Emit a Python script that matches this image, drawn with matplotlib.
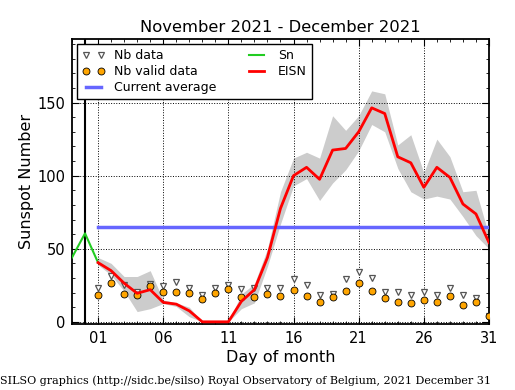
import matplotlib
matplotlib.use("Agg")
import matplotlib.pyplot as plt
from matplotlib.ticker import MultipleLocator, FuncFormatter

plt.rcParams.update({
    "font.family": "DejaVu Sans",
    "xtick.direction": "in",
    "ytick.direction": "in",
    "xtick.top": True,
    "ytick.right": True,
})

# ---- data ----
days = list(range(1, 32))
eisn = [40.5, 35, 26.4, 19.5, 22, 13.3, 12.1, 7.5, 0, 0, 0, 14, 22, 44, 77.6,
        100, 105.7, 97.5, 117.5, 118.6, 130, 146.4, 142.5, 112.9, 108.8, 92,
        105.7, 98.8, 80.6, 73.8, 54.2]
band_lo = [39, 32, 21, 7, 9, 12.5, 10.5, 3.5, 0, 0, 0, 9, 13, 38, 67,
           93, 98, 83, 95, 104, 117, 135, 130, 105, 89, 84, 86, 84, 72, 59, 50]
band_hi = [44, 40, 31, 31, 35, 15, 13, 10, 0, 0, 0, 19, 26, 50, 89,
           112, 116, 112, 141, 131, 141, 158, 156, 121, 128, 102, 125, 113, 89, 90, 59]
nb_data = [23.2, 31.6, 25.3, 20.7, 25.7, 24.8, 27.3, 23, 18.4, 22.9, 25.3, 22.3, 23, 23.2, 23.2,
           29.3, 25.2, 18.3, 19.1, 29.2, 33.8, 30.3, 20.5, 20.5, 18.4, 20.5, 18.4, 23.2, 18.4, 16.6, 4.3]
nb_valid = [18.2, 26.8, 18.7, 18.2, 24.8, 20.7, 20.7, 20, 15.7, 20, 22.6, 17.3, 17.3, 18.8, 18,
            22.1, 18, 13.9, 17.3, 20.8, 26.8, 21, 16, 13.9, 13.2, 15.2, 13.9, 18, 11.8, 13.9, 4.3]
sn_days = [-1, 0, 1]
sn = [44, 60.5, 40.5]
current_avg = 64.7
avg_days = [1, 31]

fig = plt.figure(figsize=(5.15, 3.9), dpi=100)
ax = fig.add_axes([0.1398, 0.1692, 0.8097, 0.7308])

ax.fill_between(days, band_lo, band_hi, color="#CCCCCC", lw=0, zorder=1)
ax.axvline(0, color="black", lw=1.5, zorder=2)
ax.plot(days, nb_data, "v", ms=4.2, mfc="white", mec="#555555", mew=0.9,
        ls="none", label="Nb data", zorder=3)
ax.plot(days, nb_valid, "o", ms=5, mfc="#FFA500", mec="black", mew=0.6,
        ls="none", label="Nb valid data", zorder=4)
ax.plot(avg_days, [current_avg] * 2, color="#6666FF", lw=2.5,
        label="Current average", zorder=3)
ax.plot(sn_days, sn, color="#22CC22", lw=1.5, label="Sn", zorder=5)
ax.plot(days, eisn, color="red", lw=2, label="EISN", zorder=6)

ax.set_xlim(-1, 31)
ax.set_ylim(-1.5, 193.5)
ax.xaxis.set_minor_locator(MultipleLocator(1))
ax.set_xticks([1, 6, 11, 16, 21, 26, 31])
ax.xaxis.set_major_formatter(FuncFormatter(lambda v, _: f"{int(v):02d}"))
ax.yaxis.set_major_locator(MultipleLocator(50))
ax.yaxis.set_minor_locator(MultipleLocator(10))
ax.tick_params(which="major", length=5, width=0.8, labelsize=10.5, pad=5)
ax.tick_params(which="minor", length=2.5, width=0.6)
ax.grid(True, which="major", color="black", ls=":", lw=0.7)
for s in ax.spines.values():
    s.set_linewidth(1.3)

ax.set_title("November 2021 - December 2021", fontsize=11.8, pad=5)
ax.set_xlabel("Day of month", fontsize=11.5, labelpad=3)
ax.set_ylabel("Sunspot Number", fontsize=11.5, labelpad=2)

leg = ax.legend(loc="upper left", ncol=2, numpoints=2, fontsize=9,
                fancybox=False, framealpha=1, edgecolor="black",
                handlelength=1.8, labelspacing=0.25, columnspacing=2.3,
                borderaxespad=0.4)
leg.get_frame().set_linewidth(1.0)
leg.set_zorder(10)

fig.text(0.0, 0.023, "SILSO graphics (http://sidc.be/silso) Royal Observatory of Belgium, 2021 December 31",
         family="DejaVu Serif", fontsize=8, ha="left", va="center")

fig.savefig("out.png", dpi=100)
